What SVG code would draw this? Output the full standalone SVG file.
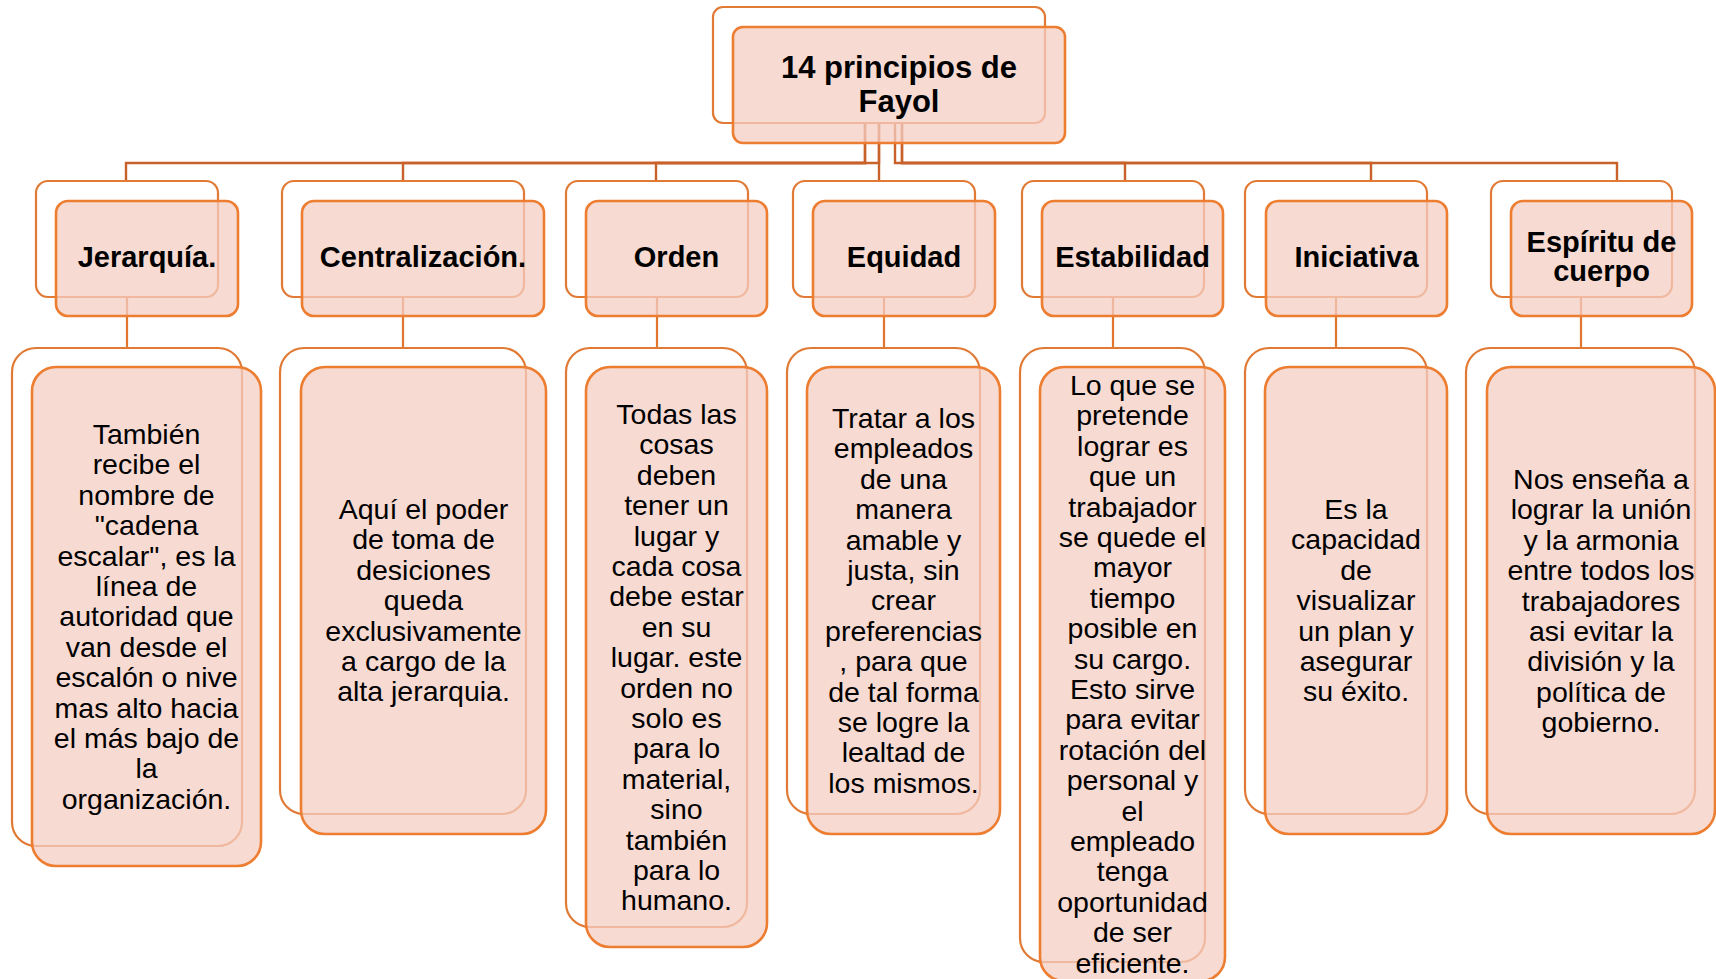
<svg xmlns="http://www.w3.org/2000/svg" width="1716" height="979" viewBox="0 0 1716 979">
<style>
.bk{fill:#ffffff;stroke:#E07A35;stroke-width:2.2}
.fr{fill:#F4CEC3;fill-opacity:0.75;stroke:#ED7D31;stroke-width:2.6}
.c1{fill:none;stroke:#C8622A;stroke-width:2.4}
.c2{fill:none;stroke:#E0762F;stroke-width:2.2}
.h{font-family:"Liberation Sans",Arial,sans-serif;font-weight:bold;fill:#000;text-anchor:middle}
.d{font-family:"Liberation Sans",Arial,sans-serif;font-size:28.5px;fill:#000;text-anchor:middle}
</style>
<rect width="1716" height="979" fill="#ffffff"/>
<g id="connectors">
<path class="c1" d="M865,123 V163 H126 V181"/>
<path class="c1" d="M865,123 V163 H403 V181"/>
<path class="c1" d="M879,123 V163 H656 V181"/>
<path class="c1" d="M879,123 V181"/>
<path class="c1" d="M895,123 V163 H1125 V181"/>
<path class="c1" d="M902,123 V163 H1371 V181"/>
<path class="c1" d="M902,123 V163 H1617 V181"/>
<path class="c2" d="M127,297 V348"/>
<path class="c2" d="M403,297 V348"/>
<path class="c2" d="M657,297 V348"/>
<path class="c2" d="M884,297 V348"/>
<path class="c2" d="M1113,297 V348"/>
<path class="c2" d="M1336,297 V348"/>
<path class="c2" d="M1581,297 V348"/>
</g>
<g id="root">
<rect class="bk" x="713" y="7" width="332" height="116" rx="10"/>
<rect class="fr" x="733" y="27" width="332" height="116" rx="10"/>
<text class="h" font-size="31" x="899" y="78">14 principios de</text>
<text class="h" font-size="31" x="899" y="112">Fayol</text>
</g>
<g id="h-jerarquia">
<rect class="bk" x="36" y="181" width="182" height="116" rx="12"/>
<rect class="fr" x="56" y="201" width="182" height="115" rx="12"/>
<text class="h" font-size="29" x="147" y="267">Jerarquía.</text>
</g>
<g id="h-centralizacion">
<rect class="bk" x="282" y="181" width="242" height="116" rx="12"/>
<rect class="fr" x="302" y="201" width="242" height="115" rx="12"/>
<text class="h" font-size="29" x="423" y="267">Centralización.</text>
</g>
<g id="h-orden">
<rect class="bk" x="566" y="181" width="182" height="116" rx="12"/>
<rect class="fr" x="586" y="201" width="181" height="115" rx="12"/>
<text class="h" font-size="29" x="676.5" y="267">Orden</text>
</g>
<g id="h-equidad">
<rect class="bk" x="793" y="181" width="182" height="116" rx="12"/>
<rect class="fr" x="813" y="201" width="182" height="115" rx="12"/>
<text class="h" font-size="29" x="904" y="267">Equidad</text>
</g>
<g id="h-estabilidad">
<rect class="bk" x="1022" y="181" width="182" height="116" rx="12"/>
<rect class="fr" x="1042" y="201" width="181" height="115" rx="12"/>
<text class="h" font-size="29" x="1132.5" y="267">Estabilidad</text>
</g>
<g id="h-iniciativa">
<rect class="bk" x="1245" y="181" width="182" height="116" rx="12"/>
<rect class="fr" x="1266" y="201" width="181" height="115" rx="12"/>
<text class="h" font-size="29" x="1356.5" y="267">Iniciativa</text>
</g>
<g id="h-espiritu">
<rect class="bk" x="1491" y="181" width="181" height="116" rx="12"/>
<rect class="fr" x="1511" y="201" width="181" height="115" rx="12"/>
<text class="h" font-size="29" x="1601.5" y="252">Espíritu de</text>
<text class="h" font-size="29" x="1601.5" y="281">cuerpo</text>
</g>
<g id="d-jerarquia">
<rect class="bk" x="12" y="348" width="230" height="498" rx="24"/>
<rect class="fr" x="32" y="367" width="229" height="499" rx="24"/>
<text class="d" y="444"><tspan x="146.5">También</tspan><tspan x="146.5" dy="30.4">recibe el</tspan><tspan x="146.5" dy="30.4">nombre de</tspan><tspan x="146.5" dy="30.4">"cadena</tspan><tspan x="146.5" dy="30.4">escalar", es la</tspan><tspan x="146.5" dy="30.4">línea de</tspan><tspan x="146.5" dy="30.4">autoridad que</tspan><tspan x="146.5" dy="30.4">van desde el</tspan><tspan x="146.5" dy="30.4">escalón o nive</tspan><tspan x="146.5" dy="30.4">mas alto hacia</tspan><tspan x="146.5" dy="30.4">el más bajo de</tspan><tspan x="146.5" dy="30.4">la</tspan><tspan x="146.5" dy="30.4">organización.</tspan></text>
</g>
<g id="d-centralizacion">
<rect class="bk" x="280" y="348" width="246" height="466" rx="24"/>
<rect class="fr" x="301" y="367" width="245" height="467" rx="24"/>
<text class="d" y="519"><tspan x="423.5">Aquí el poder</tspan><tspan x="423.5" dy="30.4">de toma de</tspan><tspan x="423.5" dy="30.4">desiciones</tspan><tspan x="423.5" dy="30.4">queda</tspan><tspan x="423.5" dy="30.4">exclusivamente</tspan><tspan x="423.5" dy="30.4">a cargo de la</tspan><tspan x="423.5" dy="30.4">alta jerarquia.</tspan></text>
</g>
<g id="d-orden">
<rect class="bk" x="566" y="348" width="181" height="579" rx="24"/>
<rect class="fr" x="586" y="367" width="181" height="580" rx="24"/>
<text class="d" y="424"><tspan x="676.5">Todas las</tspan><tspan x="676.5" dy="30.4">cosas</tspan><tspan x="676.5" dy="30.4">deben</tspan><tspan x="676.5" dy="30.4">tener un</tspan><tspan x="676.5" dy="30.4">lugar y</tspan><tspan x="676.5" dy="30.4">cada cosa</tspan><tspan x="676.5" dy="30.4">debe estar</tspan><tspan x="676.5" dy="30.4">en su</tspan><tspan x="676.5" dy="30.4">lugar. este</tspan><tspan x="676.5" dy="30.4">orden no</tspan><tspan x="676.5" dy="30.4">solo es</tspan><tspan x="676.5" dy="30.4">para lo</tspan><tspan x="676.5" dy="30.4">material,</tspan><tspan x="676.5" dy="30.4">sino</tspan><tspan x="676.5" dy="30.4">también</tspan><tspan x="676.5" dy="30.4">para lo</tspan><tspan x="676.5" dy="30.4">humano.</tspan></text>
</g>
<g id="d-equidad">
<rect class="bk" x="787" y="348" width="193" height="466" rx="24"/>
<rect class="fr" x="807" y="367" width="193" height="467" rx="24"/>
<text class="d" y="428"><tspan x="903.5">Tratar a los</tspan><tspan x="903.5" dy="30.4">empleados</tspan><tspan x="903.5" dy="30.4">de una</tspan><tspan x="903.5" dy="30.4">manera</tspan><tspan x="903.5" dy="30.4">amable y</tspan><tspan x="903.5" dy="30.4">justa, sin</tspan><tspan x="903.5" dy="30.4">crear</tspan><tspan x="903.5" dy="30.4">preferencias</tspan><tspan x="903.5" dy="30.4">, para que</tspan><tspan x="903.5" dy="30.4">de tal forma</tspan><tspan x="903.5" dy="30.4">se logre la</tspan><tspan x="903.5" dy="30.4">lealtad de</tspan><tspan x="903.5" dy="30.4">los mismos.</tspan></text>
</g>
<g id="d-estabilidad">
<rect class="bk" x="1020" y="348" width="185" height="614" rx="24"/>
<rect class="fr" x="1040" y="367" width="185" height="614" rx="24"/>
<text class="d" y="395"><tspan x="1132.5">Lo que se</tspan><tspan x="1132.5" dy="30.4">pretende</tspan><tspan x="1132.5" dy="30.4">lograr es</tspan><tspan x="1132.5" dy="30.4">que un</tspan><tspan x="1132.5" dy="30.4">trabajador</tspan><tspan x="1132.5" dy="30.4">se quede el</tspan><tspan x="1132.5" dy="30.4">mayor</tspan><tspan x="1132.5" dy="30.4">tiempo</tspan><tspan x="1132.5" dy="30.4">posible en</tspan><tspan x="1132.5" dy="30.4">su cargo.</tspan><tspan x="1132.5" dy="30.4">Esto sirve</tspan><tspan x="1132.5" dy="30.4">para evitar</tspan><tspan x="1132.5" dy="30.4">rotación del</tspan><tspan x="1132.5" dy="30.4">personal y</tspan><tspan x="1132.5" dy="30.4">el</tspan><tspan x="1132.5" dy="30.4">empleado</tspan><tspan x="1132.5" dy="30.4">tenga</tspan><tspan x="1132.5" dy="30.4">oportunidad</tspan><tspan x="1132.5" dy="30.4">de ser</tspan><tspan x="1132.5" dy="30.4">eficiente.</tspan></text>
</g>
<g id="d-iniciativa">
<rect class="bk" x="1245" y="348" width="182" height="466" rx="24"/>
<rect class="fr" x="1265" y="367" width="182" height="467" rx="24"/>
<text class="d" y="519"><tspan x="1356">Es la</tspan><tspan x="1356" dy="30.4">capacidad</tspan><tspan x="1356" dy="30.4">de</tspan><tspan x="1356" dy="30.4">visualizar</tspan><tspan x="1356" dy="30.4">un plan y</tspan><tspan x="1356" dy="30.4">asegurar</tspan><tspan x="1356" dy="30.4">su éxito.</tspan></text>
</g>
<g id="d-espiritu">
<rect class="bk" x="1466" y="348" width="229" height="466" rx="24"/>
<rect class="fr" x="1487" y="367" width="228" height="467" rx="24"/>
<text class="d" y="489"><tspan x="1601">Nos enseña a</tspan><tspan x="1601" dy="30.4">lograr la unión</tspan><tspan x="1601" dy="30.4">y la armonia</tspan><tspan x="1601" dy="30.4">entre todos los</tspan><tspan x="1601" dy="30.4">trabajadores</tspan><tspan x="1601" dy="30.4">asi evitar la</tspan><tspan x="1601" dy="30.4">división y la</tspan><tspan x="1601" dy="30.4">política de</tspan><tspan x="1601" dy="30.4">gobierno.</tspan></text>
</g>
</svg>
